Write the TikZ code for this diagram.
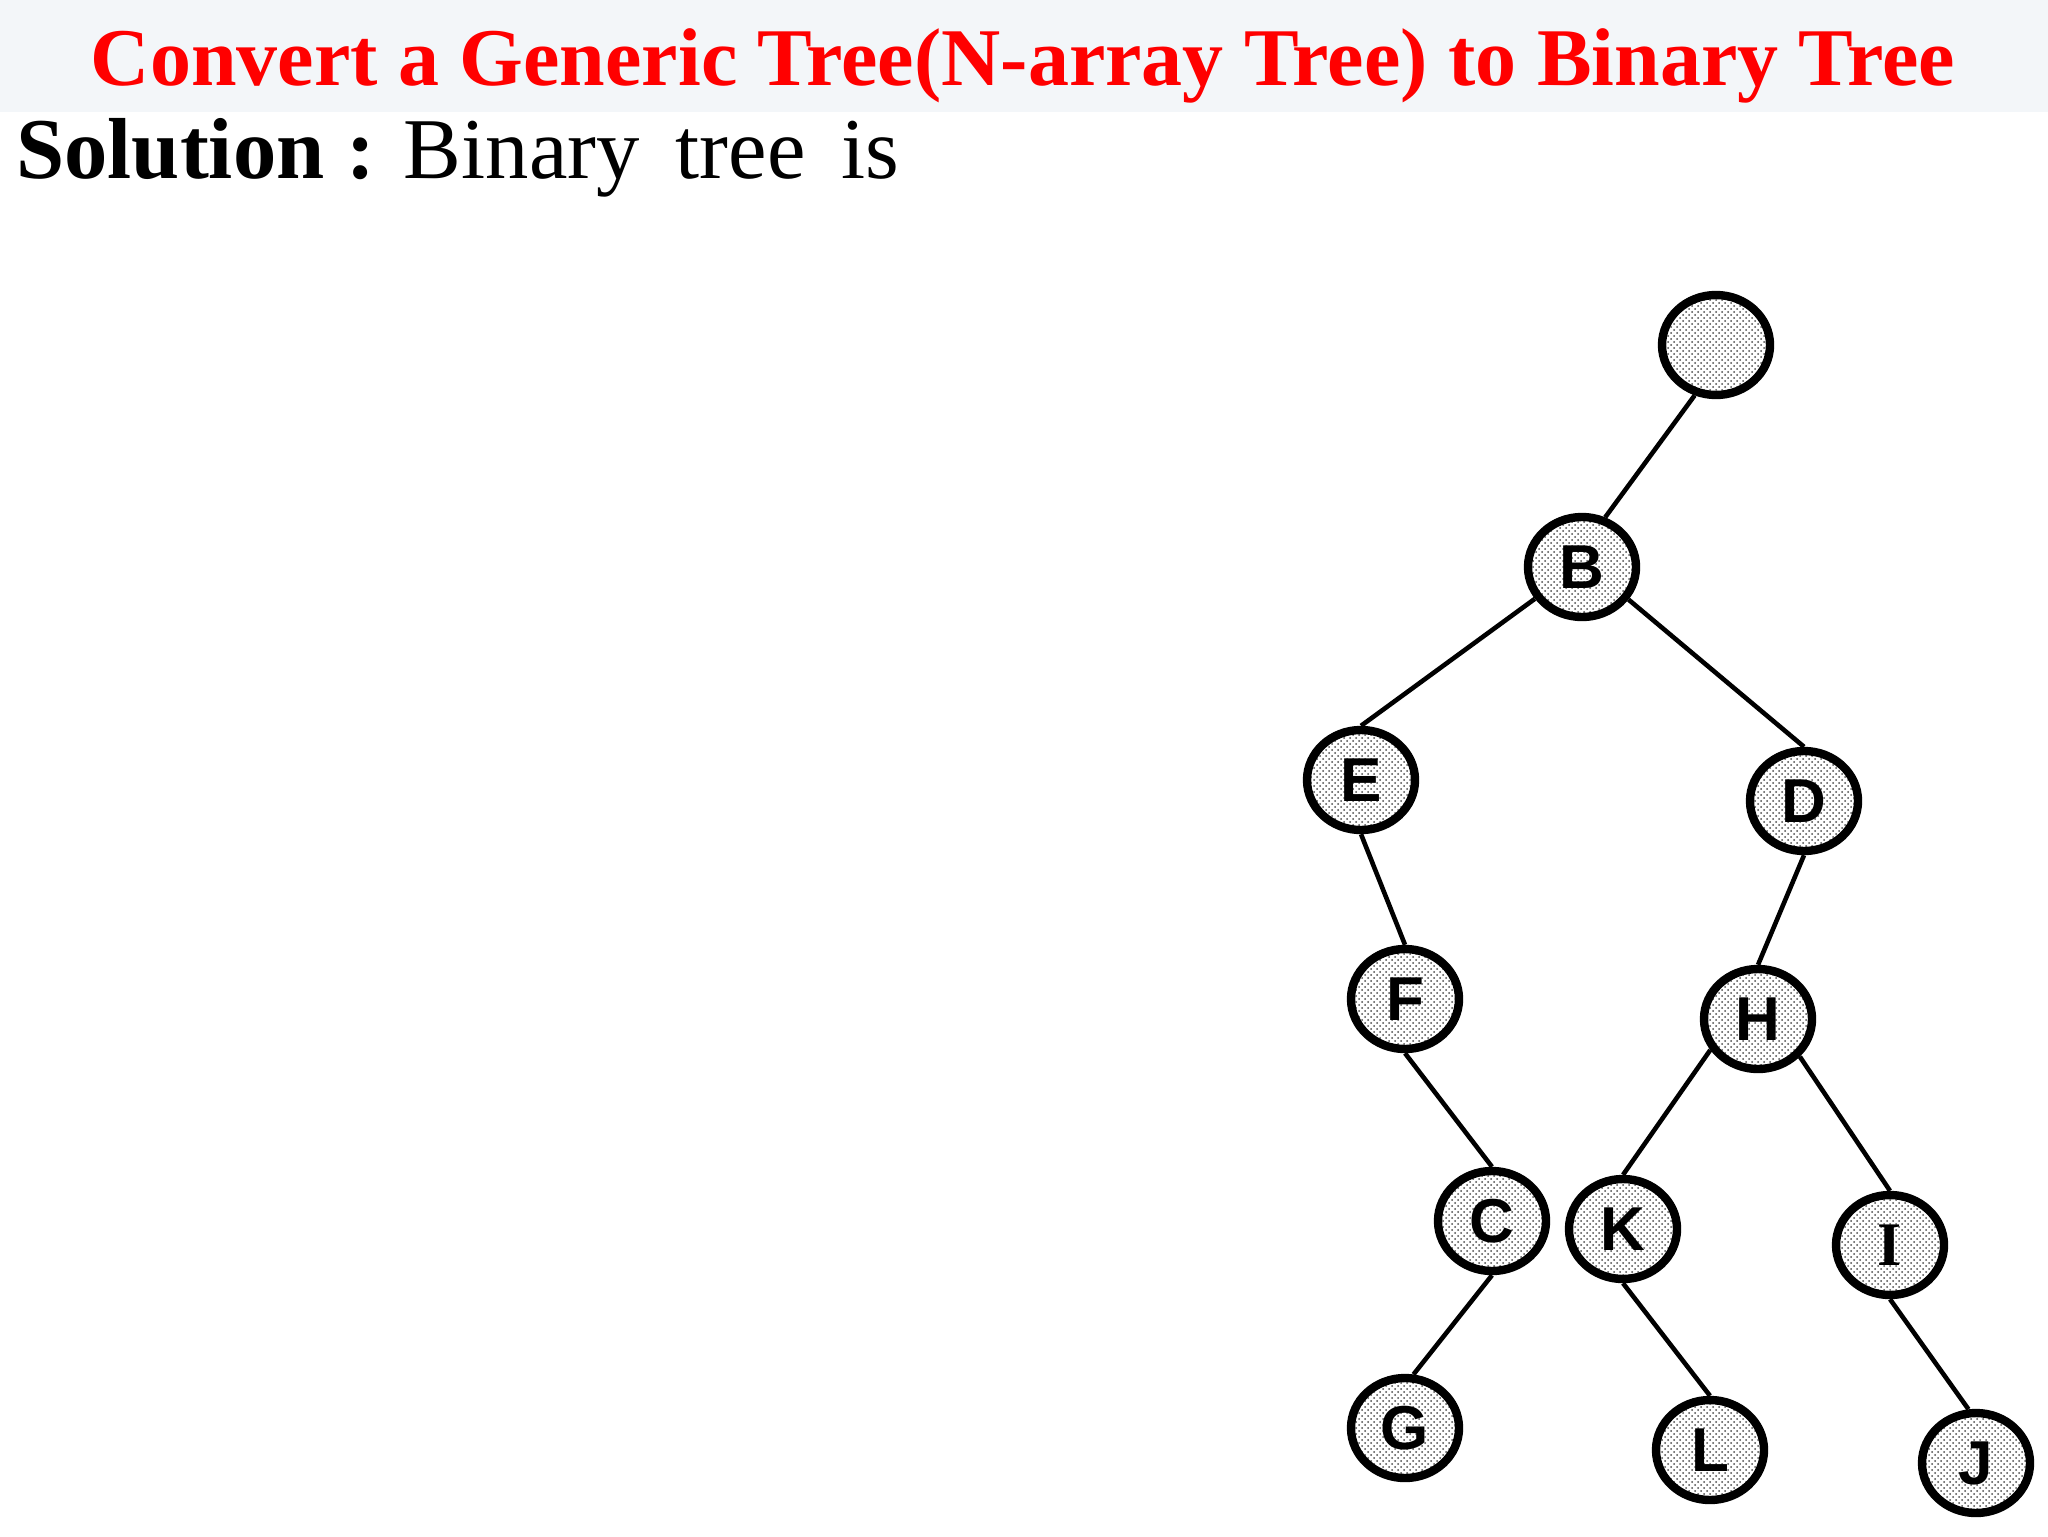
\documentclass[tikz,border=0pt]{standalone}
\usepackage{fontspec}
\setmainfont{Liberation Serif}
\setsansfont{Liberation Sans}
\usetikzlibrary{shapes.geometric,patterns}
\definecolor{bandbg}{HTML}{F3F6F9}
\definecolor{titlered}{HTML}{FF0000}
\tikzset{
  treenode/.style={ellipse, draw=black, line width=4.2pt, inner sep=0pt,
    minimum width=54pt, minimum height=50pt,
    preaction={fill=white},
    pattern=crosshatch dots, pattern color=black!70,
    font=\fontsize{31}{31}\selectfont\sffamily\bfseries},
  treeedge/.style={draw=black, line width=2.3pt}
}
\begin{document}
\begin{tikzpicture}[x=0.5pt,y=-0.5pt]
\useasboundingbox (0,0) rectangle (2048,1536);
\fill[white] (0,0) rectangle (2048,1536);
\fill[bandbg] (0,0) rectangle (2048,112);
\node[anchor=base, inner sep=0pt, text=titlered] (title) at (1023,86)
  {\resizebox{932pt}{!}{\fontsize{40}{40}\selectfont\bfseries Convert a Generic Tree(N-array Tree) to Binary Tree}};
\node[anchor=base west, inner sep=0pt] (sol) at (16,178)
  {\resizebox{441.5pt}{!}{\fontsize{30}{30}\selectfont{\bfseries Solution :} Binary\, tree\, is}};
% nodes
\node[treenode] (root) at (1716,345) {};
\node[treenode] (B) at (1582,567) {B};
\node[treenode] (E) at (1361,780) {E};
\node[treenode] (D) at (1804,801) {D};
\node[treenode] (F) at (1405,999) {F};
\node[treenode] (H) at (1758,1019) {H};
\node[treenode] (C) at (1492,1221) {C};
\node[treenode] (K) at (1623,1229) {K};
\node[treenode] (I) at (1890,1245) {\rmfamily I};
\node[treenode] (G) at (1405,1428) {G};
\node[treenode] (L) at (1710,1450) {L};
\node[treenode] (J) at (1976,1463) {J};
% edges
\path[treeedge] (root.247) -- (B.65);
\path[treeedge] (B.214) -- (E.north);
\path[treeedge] (B.325) -- (D.north);
\path[treeedge] (E.south) -- (F.north);
\path[treeedge] (F.south) -- (C.north);
\path[treeedge] (C.south) -- (G.81);
\path[treeedge] (D.south) -- (H.north);
\path[treeedge] (H.213) -- (K.north);
\path[treeedge] (H.318) -- (I.north);
\path[treeedge] (K.south) -- (L.north);
\path[treeedge] (I.south) -- (J.98);
\end{tikzpicture}
\end{document}
